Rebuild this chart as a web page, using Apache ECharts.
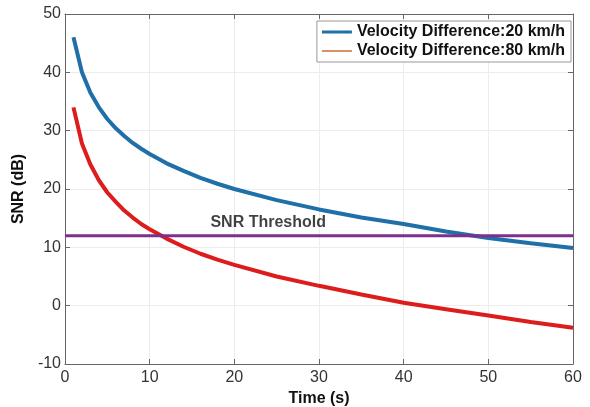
<!DOCTYPE html>
<html><head><meta charset="utf-8">
<script src="https://cdn.jsdelivr.net/npm/echarts@6/dist/echarts.min.js"></script>
<style>html,body{margin:0;padding:0;background:#fff}#c{width:590px;height:407px}</style>
</head><body><div id="c"></div>
<script>
const times = [1,2,3,4,5,6,7,8,9,10,12,14,16,18,20,25,30,35,40,45,50,55,60];
const snr20 = [46,40.0,36.5,34.0,32.0,30.4,29.1,27.9,26.9,26.0,24.4,23.1,21.9,20.9,20.0,18.1,16.5,15.1,14.0,12.7,11.6,10.7,9.9];
const snr80 = [34,27.8,24.2,21.5,19.4,17.8,16.3,15.1,14.0,13.1,11.5,10.1,8.9,7.9,7.0,5.0,3.4,1.9,0.5,-0.6,-1.7,-2.8,-3.8];
const thresholdValue = 12;
const thresholdRange = [0,60];
const thresholdLabelAt = 24;
const xTicks = [0,10,20,30,40,50,60];
const yTicks = [-10,0,10,20,30,40,50];
const seriesNames = ['Velocity Difference:20 km/h','Velocity Difference:80 km/h'];

const font = 'Liberation Sans, Arial, Helvetica, sans-serif';
const chart = echarts.init(document.getElementById('c'));
const axLine = {show:true,onZero:false,lineStyle:{color:'#666',width:1}};
const axTick = {show:true,inside:true,length:5,lineStyle:{color:'#666'}};
chart.setOption({
  animation:false,
  backgroundColor:'#fff',
  grid:{left:65,right:17,top:14,bottom:43,containLabel:false,outerBoundsMode:'none'},
  legend:{
    right:19, top:21, orient:'vertical',
    backgroundColor:'#fff', borderColor:'#999', borderWidth:1,
    padding:[3,6,3,5], itemGap:3, itemWidth:30, itemHeight:15,
    textStyle:{fontFamily:font,fontSize:16,fontWeight:'bold',color:'#111'},
    data:[
      {name:seriesNames[0], icon:'path://M0,6L30,6L30,9L0,9Z', itemStyle:{color:'#1f6fa8'}},
      {name:seriesNames[1], icon:'path://M0,6.5L30,6.5L30,8.5L0,8.5Z', itemStyle:{color:'#d9916a'}}
    ]
  },
  xAxis:[
    {type:'value',min:0,max:60,interval:10,position:'bottom',
      name:'Time (s)',nameLocation:'middle',nameGap:24,
      nameTextStyle:{fontFamily:font,fontSize:16,fontWeight:'bold',color:'#111'},
      axisLabel:{fontFamily:font,fontSize:16,color:'#333',margin:6},
      axisLine:axLine,axisTick:axTick,
      splitLine:{show:true,lineStyle:{color:'#ececec'}}},
    {type:'value',min:0,max:60,interval:10,position:'top',axisLabel:{show:false},splitLine:{show:false},
      axisLine:axLine,axisTick:axTick}
  ],
  yAxis:[
    {type:'value',min:-10,max:50,interval:10,position:'left',
      name:'SNR (dB)',nameLocation:'middle',nameGap:38,nameRotate:90,
      nameTextStyle:{fontFamily:font,fontSize:16,fontWeight:'bold',color:'#111'},
      axisLabel:{fontFamily:font,fontSize:16,color:'#333',margin:4},
      axisLine:axLine,axisTick:axTick,
      splitLine:{show:true,lineStyle:{color:'#ececec'}}},
    {type:'value',min:-10,max:50,interval:10,position:'right',axisLabel:{show:false},splitLine:{show:false},
      axisLine:axLine,axisTick:axTick}
  ],
  series:[
    {name:seriesNames[0],type:'line',symbol:'none',smooth:false,
      data:times.map((t,i)=>[t,snr20[i]]),
      itemStyle:{color:'#1f6fa8'},lineStyle:{color:'#1f6fa8',width:4},z:3},
    {name:seriesNames[1],type:'line',symbol:'none',smooth:false,
      data:times.map((t,i)=>[t,snr80[i]]),
      itemStyle:{color:'#d9916a'},lineStyle:{color:'#dd1c1c',width:4},z:3},
    {name:'threshold',type:'line',symbol:'none',
      data:thresholdRange.map(t=>[t,thresholdValue]),
      lineStyle:{color:'#7e2f8e',width:3},z:4},
    {name:'thresholdLabel',type:'scatter',symbolSize:0,
      data:[[thresholdLabelAt,thresholdValue]],
      label:{show:true,position:'top',distance:5,formatter:'SNR Threshold',
        fontFamily:font,fontSize:16,fontWeight:'bold',color:'#111'},z:5}
  ]
});
</script></body></html>
